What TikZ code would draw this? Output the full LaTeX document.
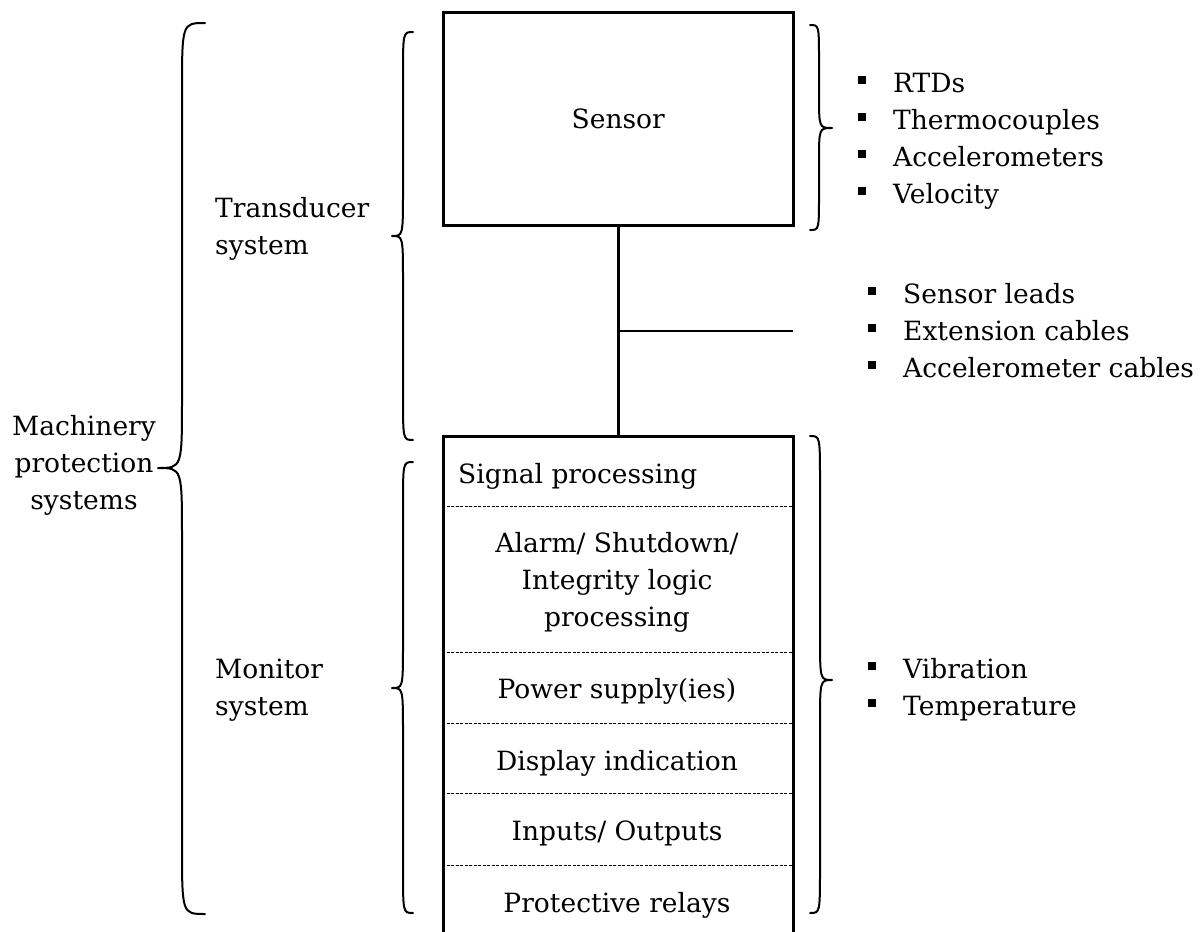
\documentclass[tikz,border=0pt]{standalone}
\usepackage{fontspec}
\setmainfont{DejaVu Serif}
\usetikzlibrary{calc}
\newcommand\sqbul{\makebox[35pt][l]{\rule[8pt]{8pt}{8pt}}}
% #1 end x, #2 spine x, #3 tip x, #4 top y, #5 tip y, #6 bottom y, #7 curve length
\newcommand\curlybrace[7]{%
  \draw[bracestyle] (#1,#4) .. controls (#2,#4) .. (#2,#4+#7) -- (#2,#5-#7)
    .. controls (#2,#5) .. (#3,#5) .. controls (#2,#5) .. (#2,#5+#7)
    -- (#2,#6-#7) .. controls (#2,#6) .. (#1,#6);}
\begin{document}
\begin{tikzpicture}[x=1pt,y=-1pt,
  txt/.style={font=\fontsize{26.5}{37}\selectfont, inner sep=0pt},
  boxstyle/.style={draw, line width=2.6pt, inner sep=0pt},
  wire/.style={line width=2.4pt},
  sep/.style={line width=1pt, dash pattern=on 3pt off 1.5pt},
  bracestyle/.style={line width=2pt, line join=round, line cap=round}]
\useasboundingbox (0,0) rectangle (1203,932);
\clip (0,0) rectangle (1203,932);
\node[boxstyle, txt, minimum width=350pt, minimum height=213pt, anchor=north west] (sensor) at (442,11) {Sensor};
\node[boxstyle, minimum width=350pt, minimum height=520pt, anchor=north west] (monitor) at (442,435) {};
\draw[wire] (sensor.south) -- (monitor.north);
\coordinate (branch) at ($(sensor.south)!0.5!(monitor.north)$);
\coordinate (branchend) at (793,330);
\draw[wire] (branch) -- (branch -| branchend);
\foreach \y in {506,652,723,793,865}
  \draw[sep] (monitor.west |- 0,\y) -- (monitor.east |- 0,\y);
% multi-line nodes: base anchor = baseline of the last line
\node[txt, anchor=base west] (sig) at (458,483) {Signal processing};
\node[txt, anchor=base, align=center] (alarm) at (617,626) {Alarm/ Shutdown/\\Integrity logic\\processing};
\node[txt, anchor=base] (power) at (617,698) {Power supply(ies)};
\node[txt, anchor=base] (disp) at (617,770) {Display indication};
\node[txt, anchor=base] (io) at (617,840) {Inputs/ Outputs};
\node[txt, anchor=base] (relays) at (617,912) {Protective relays};
\node[txt, anchor=base west, align=left] (trans) at (215,254) {Transducer\\system};
\node[txt, anchor=base west, align=left] (mon) at (215,715) {Monitor\\system};
\node[txt, anchor=base, align=center] (mps) at (84,509) {Machinery\\protection\\systems};
\node[txt, anchor=base west, align=left] (sensors) at (858,203) {\sqbul RTDs\\\sqbul Thermocouples\\\sqbul Accelerometers\\\sqbul Velocity};
\node[txt, anchor=base west, align=left] (cables) at (868,377) {\sqbul Sensor leads\\\sqbul Extension cables\\\sqbul Accelerometer cables};
\node[txt, anchor=base west, align=left] (meas) at (868,715) {\sqbul Vibration\\\sqbul Temperature};
\curlybrace{205}{182}{158}{23}{468}{914}{70}
\curlybrace{413}{403}{392}{32}{236}{440}{45}
\curlybrace{413}{403}{392}{462}{688}{913}{45}
\curlybrace{810}{819}{832}{25}{128}{230}{35}
\curlybrace{810}{820}{832}{436}{680}{913}{45}
\end{tikzpicture}
\end{document}
